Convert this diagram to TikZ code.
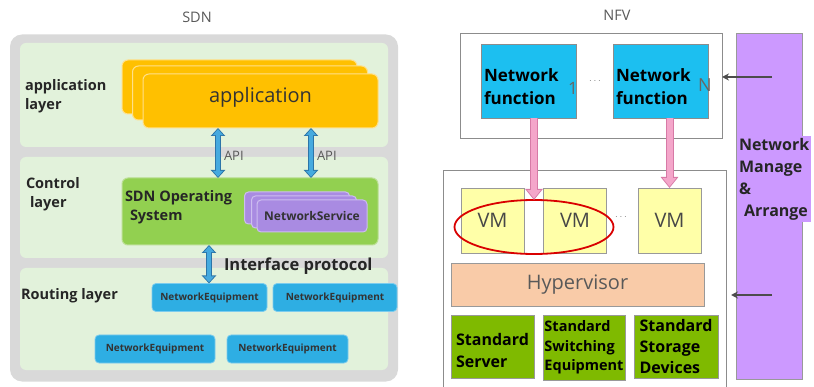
\documentclass[tikz,border=0pt]{standalone}
\usepackage{fontspec}
\setmainfont{Open Sans}
\setsansfont{Open Sans}
\usetikzlibrary{positioning,calc,arrows.meta,shapes.geometric}

\definecolor{framegray}{HTML}{D9D9D9}
\definecolor{panelgreen}{HTML}{E2F2DB}
\definecolor{apporange}{HTML}{FFC000}
\definecolor{appedge}{HTML}{FFE08A}
\definecolor{osgreen}{HTML}{92D050}
\definecolor{osedge}{HTML}{B9DE91}
\definecolor{svcpurple}{HTML}{A98BE2}
\definecolor{svcedge}{HTML}{CDBDF0}
\definecolor{equipblue}{HTML}{2EAEE3}
\definecolor{equipedge}{HTML}{7CCCEE}
\definecolor{nfcyan}{HTML}{1CBFF0}
\definecolor{vmyellow}{HTML}{FFFFA8}
\definecolor{hvpeach}{HTML}{F9CBA8}
\definecolor{stdgreen}{HTML}{7FBA00}
\definecolor{mgpurple}{HTML}{CC99FF}
\definecolor{pinkfill}{HTML}{F4A6CA}
\definecolor{pinkedge}{HTML}{D77AA6}
\definecolor{apifill}{HTML}{45AADF}
\definecolor{apiedge}{HTML}{2C75A8}
\definecolor{textgray}{HTML}{595959}

\begin{document}
\begin{tikzpicture}[x=1pt, y=-1pt, inner sep=0pt, outer sep=0pt,
  frame/.style = {fill=framegray, rounded corners=12pt},
  panel/.style = {fill=panelgreen, rounded corners=6pt},
  appbox/.style = {fill=apporange, draw=appedge, line width=1pt, rounded corners=6pt, minimum width=235pt, minimum height=54pt},
  osbox/.style = {fill=osgreen, draw=osedge, line width=1pt, rounded corners=6pt},
  svcbox/.style = {fill=svcpurple, draw=svcedge, line width=1pt, rounded corners=4pt, minimum width=105pt, minimum height=32pt},
  equip/.style = {fill=equipblue, draw=equipedge, line width=0.8pt, rounded corners=4pt, minimum height=28pt, font=\bfseries\fontsize{10}{11}\selectfont, text=black!80},
  lbl/.style = {font=\bfseries\fontsize{14.5}{19}\selectfont, align=left, text=black!85},
  title/.style = {font=\fontsize{14.5}{16}\selectfont, text=textgray},
  dblarrow/.style = {line width=6pt, draw=apiedge, {Triangle[width=14pt,length=8pt]}-{Triangle[width=14pt,length=8pt]},
    postaction={draw=apifill, line width=4pt, {Triangle[width=10pt,length=6pt]}-{Triangle[width=10pt,length=6pt]}, shorten <=1.2pt, shorten >=1.2pt}},
  pinkarr/.style = {line width=8pt, draw=pinkedge, -{Triangle[width=17pt,length=11pt]},
    postaction={draw=pinkfill, line width=6pt, -{Triangle[width=13pt,length=8.5pt]}, shorten >=1.4pt}},
  mgarrow/.style = {line width=1.4pt, draw=black!70, -{Stealth[length=7pt,width=7pt]}},
  plainbox/.style = {fill=white, draw=black!45, line width=0.8pt},
  nfbox/.style = {fill=nfcyan, draw=black!45, line width=0.6pt, minimum width=95pt, minimum height=74pt, text width=89pt, align=left,
    font=\bfseries\fontsize{17}{23}\selectfont},
  vmbox/.style = {fill=vmyellow, draw=black!40, line width=0.6pt, minimum width=63pt, minimum height=65pt, font=\fontsize{20}{22}\selectfont, text=textgray!80!black},
  stdbox/.style = {fill=stdgreen, draw=black!40, line width=0.6pt, minimum height=63pt, align=left, text=black}]

\useasboundingbox (0,0) rectangle (814,387);

%SDN side
\node[title] (sdntitle) at (197,17) {SDN};
\node[frame, minimum width=388pt, minimum height=347pt] (sdnframe) at (204,208) {};
\node[panel, minimum width=368pt, minimum height=104pt] (apppanel) at (204,95) {};
\node[panel, minimum width=368pt, minimum height=101pt] (ctrlpanel) at (204,207.5) {};
\node[panel, minimum width=368pt, minimum height=102pt] (routepanel) at (204,319) {};

\node[lbl, anchor=north west] (applbl) at (25,79) {application\\layer};
\node[lbl, anchor=north west] (ctrllbl) at (26,177) {Control\\\hspace{4pt}layer};
\node[lbl, anchor=west] (routelbl) at (21,296) {Routing layer};

\node[appbox] (app3) at (239.5,87) {};
\node[appbox] (app2) at (250,93) {};
\node[appbox, font=\fontsize{20}{22}\selectfont, text=black!80] (app1) at (260.5,101) {\raisebox{13pt}{application}};

\node[osbox, minimum width=256pt, minimum height=67pt] (osbox) at (250,211.5) {};
\node[lbl, anchor=north west, font=\bfseries\fontsize{14.5}{19}\selectfont] (oslbl) at (125,190) {SDN Operating\\\hspace{5pt}System};
\node[svcbox] (svc3) at (297,208) {};
\node[svcbox] (svc2) at (304,212) {};
\node[svcbox, minimum width=110pt, font=\bfseries\fontsize{12}{14}\selectfont, text=black!80] (svc1) at (312,216) {NetworkService};

\node[equip, minimum width=115pt] (eq1) at (209.5,297.5) {NetworkEquipment};
\node[equip, minimum width=124pt] (eq2) at (335,297.5) {NetworkEquipment};
\node[equip, minimum width=120pt] (eq3) at (155,349) {NetworkEquipment};
\node[equip, minimum width=121pt] (eq4) at (287.5,349) {NetworkEquipment};

\coordinate (apiL) at (218,154);
\coordinate (apiR) at (311,154);
\coordinate (ifx) at (209,264);
\draw[dblarrow] (app1.south -| apiL) -- (osbox.north -| apiL);
\draw[dblarrow] (app1.south -| apiR) -- (osbox.north -| apiR);
\draw[dblarrow] (osbox.south -| ifx) -- (eq1.north -| ifx);
\node[anchor=west, font=\fontsize{13}{15}\selectfont, text=textgray] (apiLlbl) at (224,156) {API};
\node[anchor=west, font=\fontsize{13}{15}\selectfont, text=textgray] (apiRlbl) at (317,156) {API};
\node[anchor=west, font=\bfseries\fontsize{16.5}{18}\selectfont, text=black!85] (iflbl) at (224,266) {Interface protocol};

%NFV side
\node[title] (nfvtitle) at (617,15) {NFV};
\node[plainbox, minimum width=262pt, minimum height=105pt] (nfframe) at (591,85.5) {};
\node[plainbox, minimum width=283pt, minimum height=222pt] (hvframe) at (584.5,281) {};
\node[nfbox] (nf1) at (528.5,81) {\rule{0pt}{25pt}Network\\function};
\node[nfbox] (nf2) at (660.5,81) {\rule{0pt}{25pt}Network\\function};
\node[font=\fontsize{17}{19}\selectfont, text=black!60] (nf1idx) at (573,88) {1};
\node[font=\fontsize{18}{20}\selectfont, text=black!60] (nf2idx) at (705,85) {N};
\node[text=black!50] (nfdots) at (595,81) {$\cdots$};

\node[fill=mgpurple, draw=black!40, line width=0.6pt, minimum width=66pt, minimum height=346pt] (mgbox) at (769,206) {};
\node[fill=mgpurple, anchor=north west, inner sep=2pt, align=left, font=\bfseries\fontsize{16}{22}\selectfont, text=black!85] (mglbl) at (737,136) {Network\\Manage\\\&\\\hspace{5pt}Arrange};

\node[vmbox] (vm1) at (492.5,220.5) {VM};
\node[vmbox] (vm2) at (575,220.5) {VM};
\node[vmbox] (vm3) at (669.5,220.5) {VM};
\node[text=black!50] (vmdots) at (621,217) {$\cdots$};
\node[ellipse, draw=red!85!black, line width=1.8pt, minimum width=159pt, minimum height=54pt] (vmring) at (534,227) {};

\node[fill=hvpeach, draw=black!40, line width=0.6pt, minimum width=253pt, minimum height=43pt, font=\fontsize{20}{22}\selectfont, text=textgray] (hv) at (577.5,284.5) {Hypervisor};

\node[stdbox, minimum width=83pt, font=\bfseries\fontsize{16}{22}\selectfont] (std1) at (492.5,346.5) {\rule{0pt}{20pt}Standard\\Server};
\node[stdbox, minimum width=82pt, minimum height=65pt, font=\bfseries\fontsize{14.5}{19.5}\selectfont] (std2) at (584,347.5) {Standard\\Switching\\Equipment};
\node[stdbox, minimum width=84pt, font=\bfseries\fontsize{16}{20.5}\selectfont] (std3) at (676,346.5) {Standard\\Storage\\Devices};

\draw[pinkarr] (nf1.south -| vmring.north) -- (vmring.north);
\draw[pinkarr] (nf2.south -| vm3.north) -- (vm3.north);

\coordinate (mgA) at (772,77);
\coordinate (mgB) at (772,295);
\draw[mgarrow] (mgA) -- (nfframe.east |- mgA);
\draw[mgarrow, shorten >=5pt] (mgB) -- (hvframe.east |- mgB);
\end{tikzpicture}
\end{document}
